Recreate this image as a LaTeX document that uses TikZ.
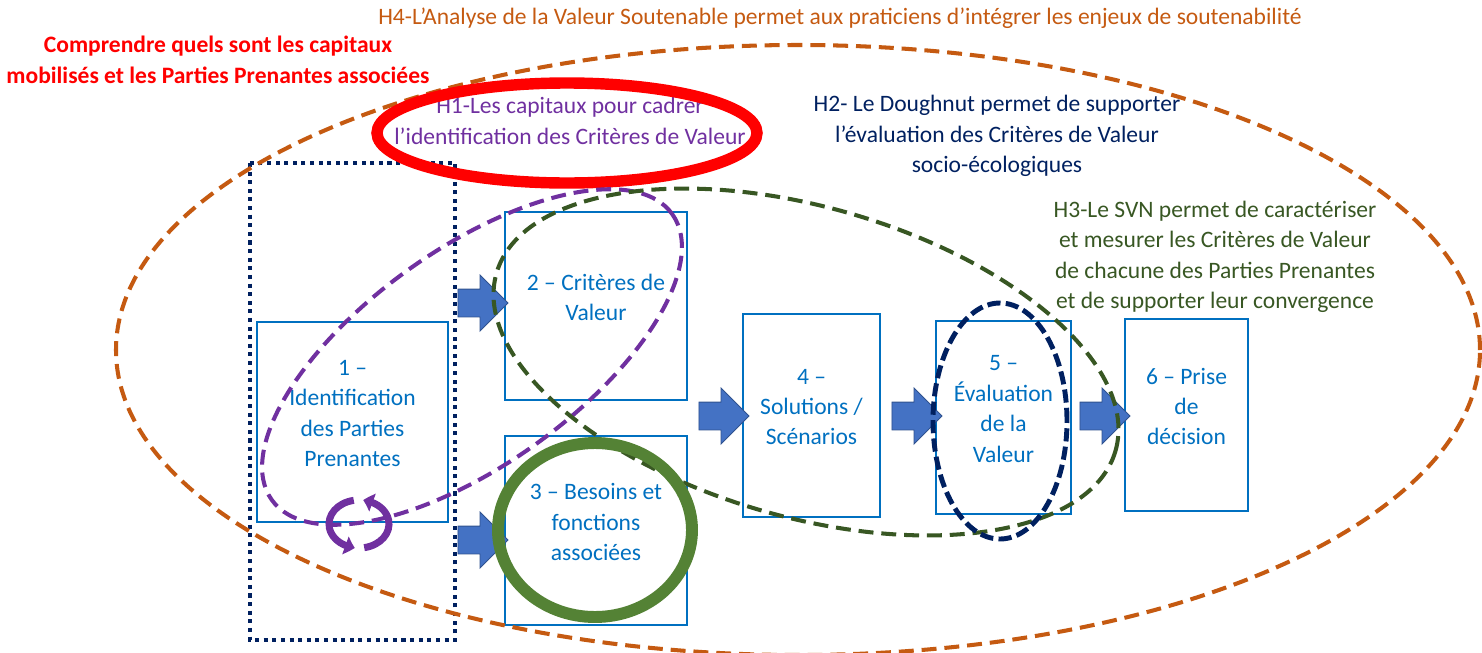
\documentclass[tikz,border=0pt]{standalone}
\usepackage{fontspec}
\setmainfont{Carlito}
\usetikzlibrary{shapes.arrows,arrows.meta,bending}
\definecolor{boxblue}{RGB}{0,112,192}
\definecolor{arrowfill}{RGB}{68,114,196}
\definecolor{arrowline}{RGB}{47,82,143}
\definecolor{hfour}{RGB}{197,90,17}
\definecolor{hone}{RGB}{112,48,160}
\definecolor{htwo}{RGB}{0,32,96}
\definecolor{hthree}{RGB}{56,87,35}
\definecolor{ringgreen}{RGB}{84,130,53}
\begin{document}
\begin{tikzpicture}[x=0.02cm, y=0.02cm,
  every node/.style={font=\fontsize{13.4}{17.3}\selectfont, align=center},
  stagebox/.style={draw=boxblue, line width=1.1pt, inner sep=0pt},
  stagetext/.style={text=boxblue, inner sep=0pt},
  blockarrow/.style={single arrow, fill=arrowfill, draw=arrowline, line width=0.5pt,
    minimum height=1.0cm, inner xsep=0pt, inner ysep=0.27cm,
    single arrow head extend=0.28cm},
  cyclearrow/.style={hone, line width=4pt, -{Triangle[width=10.5pt,length=5.5pt,bend]}},
  hyp/.style={line width=2.3pt, dash pattern=on 8.5pt off 4.5pt}]
\useasboundingbox (0,0) rectangle (1482,-653);
\clip (0,0) rectangle (1482,-653);

\node[stagebox, minimum width=3.82cm, minimum height=4.00cm] (b1) at (352.5,-422) {};
\node[stagebox, minimum width=3.64cm, minimum height=3.76cm] (b2) at (596,-306) {};
\node[stagebox, minimum width=3.64cm, minimum height=3.78cm] (b3) at (596,-530.5) {};
\node[stagebox, minimum width=2.74cm, minimum height=4.06cm] (b4) at (811.5,-415.5) {};
\node[stagebox, minimum width=2.70cm, minimum height=3.86cm] (b5) at (1003.5,-417.5) {};
\node[stagebox, minimum width=2.46cm, minimum height=3.84cm] (b6) at (1186.5,-415) {};

\node[stagetext] (t1) at ([yshift=0.17cm]b1.center) {1 –\\Identification\\des Parties\\Prenantes};
\node[stagetext] (t2) at ([yshift=0.17cm]b2.center) {2 – Critères de\\Valeur};
\node[stagetext] (t3) at ([yshift=0.17cm]b3.center) {3 – Besoins et\\fonctions\\associées};
\node[stagetext] (t4) at ([yshift=0.17cm]b4.center) {4 –\\Solutions /\\Scénarios};
\node[stagetext] (t5) at ([yshift=0.17cm]b5.center) {5 –\\Évaluation\\de la\\Valeur};
\node[stagetext] (t6) at ([yshift=0.17cm]b6.center) {6 – Prise\\de\\décision};

\node[blockarrow] (a12) at (476,-303) {};
\node[blockarrow] (a13) at (476,-540) {};
\node[blockarrow] (a34) at (717,-416) {};
\node[blockarrow] (a45) at (910,-416) {};
\node[blockarrow] (a56) at (1098,-416) {};

\node[text=hfour] (h4) at (840,-18) {H4-L’Analyse de la Valeur Soutenable permet aux praticiens d’intégrer les enjeux de soutenabilité};
\node[text=red, font=\fontsize{13.4}{17.3}\selectfont\bfseries] (goal) at (218,-60) {Comprendre quels sont les capitaux\\mobilisés et les Parties Prenantes associées};
\node[text=hone] (h1) at (570,-121) {H1-Les capitaux pour cadrer\\l’identification des Critères de Valeur};
\node[text=htwo] (h2) at (997,-136) {H2- Le Doughnut permet de supporter\\l’évaluation des Critères de Valeur\\socio-écologiques};
\node[text=hthree] (h3) at (1215,-257) {H3-Le SVN permet de caractériser\\et mesurer les Critères de Valeur\\de chacune des Parties Prenantes\\et de supporter leur convergence};

\draw[htwo, line width=2.8pt, dash pattern=on 2.3pt off 2.6pt] (250,-163) rectangle (455,-640);
\draw[hyp, hfour] (798,-350) ellipse [x radius=682, y radius=305];
\draw[red, line width=6.5pt] (567,-133) ellipse [x radius=190, y radius=50];
\draw[hyp, hone, rotate around={35.5:(472,-357)}] (472,-357) ellipse [x radius=246, y radius=108];
\draw[hyp, hthree, rotate around={-16:(806,-362)}] (806,-362) ellipse [x radius=322, y radius=155];
\draw[htwo, line width=2.8pt, dash pattern=on 7.5pt off 3pt] (1000,-421) ellipse [x radius=67, y radius=118];
\draw[ringgreen, line width=6.8pt] (595,-530) ellipse [x radius=97, y radius=87];

\draw[cyclearrow] (359,-524) ++(100:30 and 24) arc[start angle=100, end angle=262, x radius=30, y radius=24];
\draw[cyclearrow] (359,-524) ++(280:30 and 24) arc[start angle=280, end angle=442, x radius=30, y radius=24];
\end{tikzpicture}
\end{document}
